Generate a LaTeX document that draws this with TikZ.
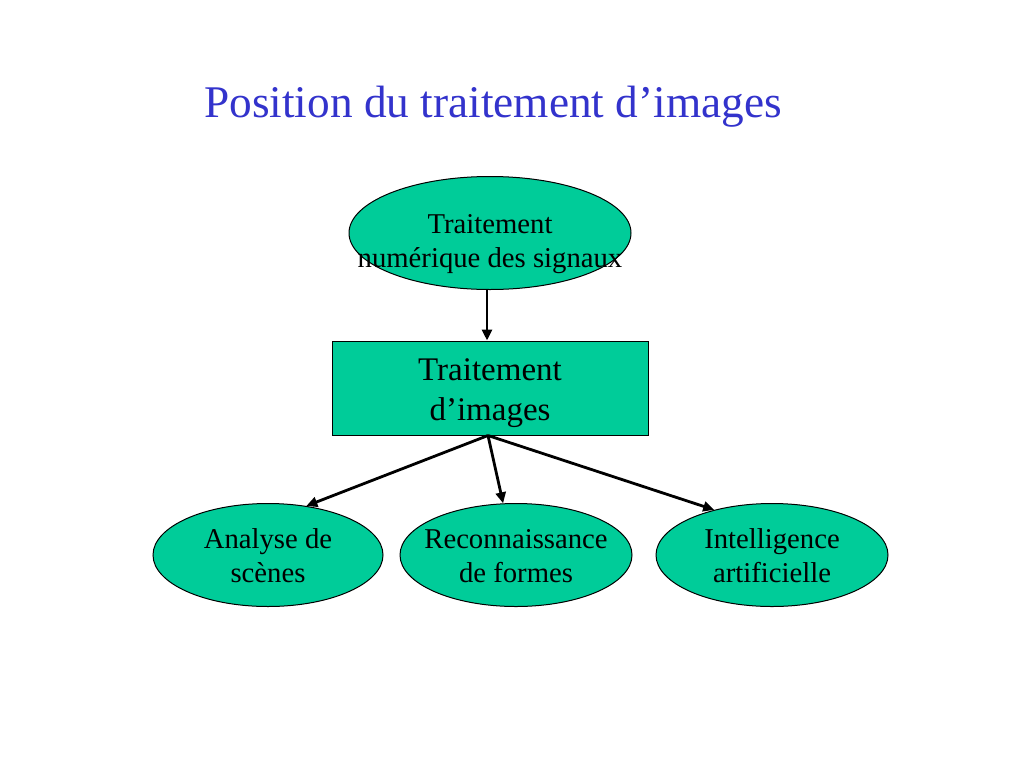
\documentclass[tikz,border=0pt]{standalone}
\usepackage{fontspec}
\setmainfont{Liberation Serif}
\usetikzlibrary{shapes.geometric,arrows.meta}
\definecolor{teal}{HTML}{00CC99}
\definecolor{titleblue}{HTML}{3333CC}
\begin{document}
\begin{tikzpicture}[x=1pt,y=-1pt,
  box/.style={draw=black,line width=1pt,fill=teal,inner sep=0pt},
  oval/.style={box,ellipse},
  txt/.style={align=center,font=\fontsize{28.7}{34}\selectfont,inner sep=0pt},
  bigtxt/.style={align=center,font=\fontsize{33}{40}\selectfont,inner sep=0pt},
  conn/.style={line width=2.8pt,-{Triangle[length=11pt,width=10pt]}}]
\useasboundingbox (0,0) rectangle (1024,768);
\node[font=\fontsize{45.3}{54}\selectfont,text=titleblue,anchor=base,inner sep=0pt] (title) at (493,117) {Position du traitement d’images};
\node[oval,minimum width=282,minimum height=113] (tns) at (490,233) {};
\node[box,rectangle,minimum width=316,minimum height=94] (ti) at (490,388) {};
\node[oval,minimum width=230,minimum height=103] (as) at (268,555) {};
\node[oval,minimum width=232,minimum height=103] (rf) at (516,555) {};
\node[oval,minimum width=232,minimum height=103] (ia) at (772,555) {};
\draw[conn] (tns.south -| 487,0) -- (ti.north -| 487,0);
\coordinate (src) at ([xshift=-2pt]ti.south);
\draw[conn] (src) -- (as.52);
\draw[conn] (src) -- (rf.104);
\draw[conn] (src) -- (ia.142);
\node[txt,anchor=base] (tnsT) at ([yshift=-34pt]tns.center) {Traitement\\numérique des signaux};
\node[bigtxt,anchor=base] (tiT) at ([yshift=-32pt]ti.center) {Traitement\\d’images};
\node[txt,anchor=base] (asT) at ([yshift=-27pt]as.center) {Analyse de\\scènes};
\node[txt,anchor=base] (rfT) at ([yshift=-27pt]rf.center) {Reconnaissance\\de formes};
\node[txt,anchor=base] (iaT) at ([yshift=-27pt]ia.center) {Intelligence\\artificielle};
\end{tikzpicture}
\end{document}
